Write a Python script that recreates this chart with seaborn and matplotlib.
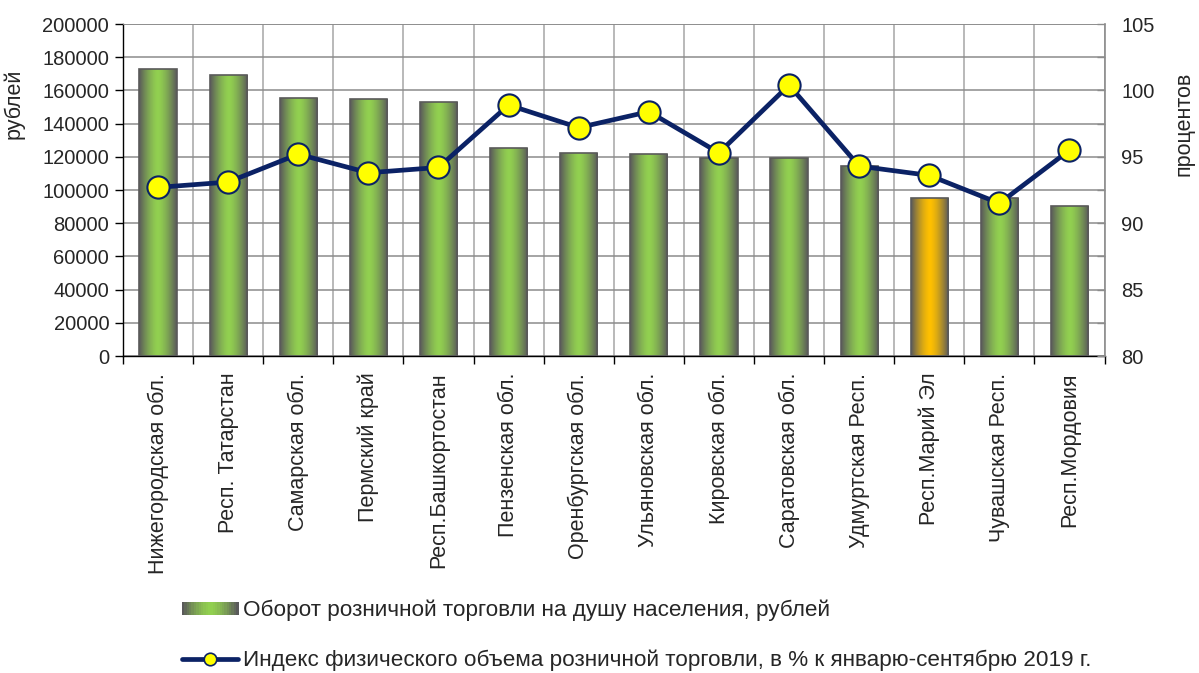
import numpy as np
import matplotlib
matplotlib.use("Agg")
import matplotlib.pyplot as plt
import seaborn as sns
from matplotlib.colors import to_rgb
from matplotlib.patches import Patch, Rectangle
from matplotlib.lines import Line2D
from matplotlib.ticker import MultipleLocator, FixedLocator

regions = ["Нижегородская обл.", "Респ. Татарстан", "Самарская обл.", "Пермский край",
           "Респ.Башкортостан", "Пензенская обл.", "Оренбургская обл.", "Ульяновская обл.",
           "Кировская обл.", "Саратовская обл.", "Удмуртская Респ.", "Респ.Марий Эл",
           "Чувашская Респ.", "Респ.Мордовия"]
turnover = [173000, 169300, 155300, 154800, 153000, 125100, 122100, 121400,
            119500, 119100, 114700, 95400, 95000, 90500]
index_pct = [92.7, 93.1, 95.2, 93.8, 94.2, 98.9, 97.2, 98.4, 95.3, 100.4, 94.3, 93.6, 91.5, 95.5]
highlight = "Респ.Марий Эл"

label_bar = "Оборот розничной торговли на душу населения, рублей"
label_line = "Индекс физического объема розничной торговли, в % к январю-сентябрю 2019 г."

sns.set_theme(style="white")
plt.rcParams["font.family"] = ["Liberation Sans", "DejaVu Sans"]
FS = 14.5     # numbers
FS_T = 15.5   # words
FS_L = 16.2   # legend

fig = plt.figure(figsize=(11.99, 6.73), dpi=100)
ax = fig.add_axes([0.1026, 0.471, 0.8186, 0.4933])

GREEN = "#92D050"
ORANGE = "#FFC000"
EDGE = "#5A5A5A"
NAVY = "#0B2265"

sns.barplot(x=regions, y=turnover, ax=ax, width=0.53, color=GREEN, zorder=2)


def grad_colors(base, n):
    u = np.linspace(0, 1, n)
    prof = np.abs(2 * u - 1) ** 1.5
    b = np.array(to_rgb(base))
    d = np.array(to_rgb(EDGE))
    return (1 - prof)[:, None] * b + prof[:, None] * d


for patch, name in zip(ax.patches, regions):
    cols = grad_colors(ORANGE if name == highlight else GREEN, 64)
    img = cols[None, :, :]
    x0, y0 = patch.get_x(), patch.get_y()
    w, h = patch.get_width(), patch.get_height()
    im = ax.imshow(img, extent=[x0, x0 + w, y0, y0 + h], aspect="auto", zorder=2,
                   interpolation="bilinear")
    im.set_clip_path(patch)
    patch.set_facecolor("none")
    patch.set_edgecolor(EDGE)
    patch.set_linewidth(1.2)
    patch.set_zorder(3)

ax.set_xlim(-0.5, len(regions) - 0.5)
ax.set_ylim(0, 200000)
ax.yaxis.set_major_locator(MultipleLocator(20000))
ax.xaxis.set_minor_locator(FixedLocator(np.arange(-0.5, len(regions), 1.0)))
ax.grid(True, which="major", axis="y", color="#8C8C8C", lw=1.1, zorder=0)
ax.grid(True, which="minor", axis="x", color="#A6A6A6", lw=1.1, zorder=0)
ax.grid(False, which="major", axis="x")
ax.set_axisbelow(True)

ax.spines["top"].set_visible(False)
ax.spines["right"].set_visible(False)
ax.spines["left"].set_color("black")
ax.spines["left"].set_linewidth(1.0)
ax.spines["bottom"].set_color("black")
ax.spines["bottom"].set_linewidth(1.0)

ax.tick_params(axis="y", which="major", direction="out", length=6, width=1, color="black",
               labelsize=FS, pad=4, left=True)
ax.tick_params(axis="x", which="major", length=0, labelsize=FS_T, pad=12, labelrotation=90)
ax.tick_params(axis="x", which="minor", direction="out", length=6, width=1, color="black",
               bottom=True)
ax.set_xlabel("")
ax.set_ylabel("рублей", fontsize=FS_T)
ax.yaxis.set_label_coords(-0.100, 0.76)

ax2 = ax.twinx()
sns.pointplot(x=regions, y=index_pct, ax=ax2, color=NAVY, markers="o", linestyles="-",
              markersize=16, linewidth=3.4, markerfacecolor="#FFFF00",
              markeredgecolor=NAVY, markeredgewidth=1.5, zorder=5)
ax2.set_ylim(80, 105)
ax2.yaxis.set_major_locator(MultipleLocator(5))
ax2.yaxis.set_minor_locator(MultipleLocator(2.5))
ax2.tick_params(axis="y", which="both", direction="in", length=6, width=1, color="#8C8C8C",
                labelsize=FS, pad=12, right=True)
ax2.grid(False)
for s in ["top", "left", "bottom"]:
    ax2.spines[s].set_visible(False)
ax2.spines["right"].set_color("#8C8C8C")
ax2.spines["right"].set_linewidth(1.2)
ax2.set_ylabel("процентов", fontsize=FS_T)
ax2.yaxis.set_label_coords(1.070, 0.70)
ax2.set_xlim(-0.5, len(regions) - 0.5)
ax2.axhline(105, color="#8C8C8C", lw=1.2, zorder=1)


class GradHandler:
    def legend_artist(self, legend, orig_handle, fontsize, handlebox):
        x0, y0 = -handlebox.xdescent, -handlebox.ydescent
        w, h = handlebox.width, handlebox.height
        n = 24
        cols = grad_colors(GREEN, n)
        for i in range(n):
            r = Rectangle((x0 + i * w / n, y0), w / n + 0.3, h, facecolor=cols[i],
                          edgecolor="none", transform=handlebox.get_transform())
            handlebox.add_artist(r)
        return r


handles = [Patch(facecolor=GREEN, edgecolor=EDGE),
           Line2D([0], [0], color=NAVY, lw=3.4, marker="o", markersize=9,
                  markerfacecolor="#FFFF00", markeredgecolor=NAVY, markeredgewidth=1.2)]
fig.legend(handles, [label_bar, label_line], loc="center", bbox_to_anchor=(0.531, 0.056),
           frameon=False, fontsize=FS_L, handlelength=2.5, handletextpad=0.2,
           labelspacing=1.25, handleheight=0.55, handler_map={Patch: GradHandler()})

fig.savefig("out.png", dpi=100)
